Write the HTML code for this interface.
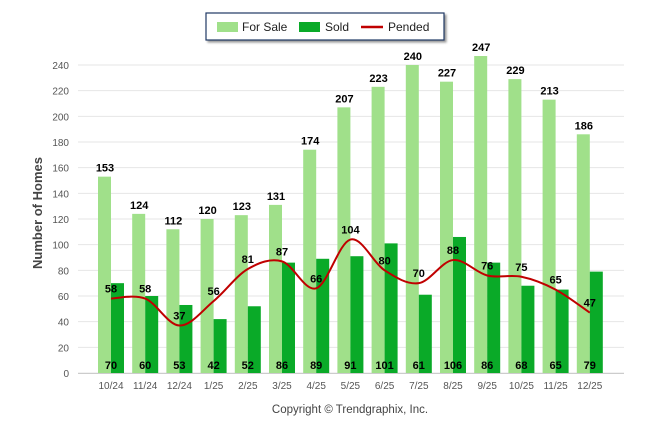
<!DOCTYPE html>
<html><head><meta charset="utf-8"><style>
body{margin:0;background:#fff;font-family:"Liberation Sans",sans-serif}
</style></head><body>
<svg id="c" width="646" height="434" xmlns="http://www.w3.org/2000/svg">
<rect x="206" y="13" width="238" height="27" fill="#fff" stroke="#1f3864" stroke-width="1.2" style="filter:drop-shadow(2px 2px 1px #999)"/>
<rect x="217" y="22" width="21" height="10" fill="#a0e08a"/>
<text x="242" y="31" font-size="12" fill="#222">For Sale</text>
<rect x="299" y="22" width="21" height="10" fill="#0aaa28"/>
<text x="325" y="31" font-size="12" fill="#222">Sold</text>
<line x1="361" y1="27" x2="383" y2="27" stroke="#c00000" stroke-width="2.5"/>
<text x="388" y="31" font-size="12" fill="#222">Pended</text>
<text transform="translate(42,213) rotate(-90)" text-anchor="middle" font-size="13" font-weight="bold" fill="#444">Number of Homes</text>
<text x="350" y="413" text-anchor="middle" font-size="11.5" fill="#444">Copyright © Trendgraphix, Inc.</text>
<g id="g"></g>
</svg>
<script>
const categories=["10/24","11/24","12/24","1/25","2/25","3/25","4/25","5/25","6/25","7/25","8/25","9/25","10/25","11/25","12/25"];
const forSale=[153,124,112,120,123,131,174,207,223,240,227,247,229,213,186];
const sold=[70,60,53,42,52,86,89,91,101,61,106,86,68,65,79];
const pended=[58,58,37,56,81,87,66,104,80,70,88,76,75,65,47];
const yTicks=[0,20,40,60,80,100,120,140,160,180,200,220,240];
const NS="http://www.w3.org/2000/svg",g=document.getElementById('g');
const y=v=>373-v*308/240, x=i=>111+i*34.2;
function mk(t,a,txt){const e=document.createElementNS(NS,t);for(const k in a)e.setAttribute(k,a[k]);if(txt!=null)e.textContent=txt;g.appendChild(e);return e;}
yTicks.forEach(v=>{
 const l=mk('line',{x1:78,x2:624,y1:y(v),y2:y(v),stroke:'#e6e6e6','stroke-width':1});
 
 
 const t=mk('text',{x:69,y:y(v)+4,'text-anchor':'end','font-size':10,fill:'#555'},v);
 
 
});
const ax=mk('line',{x1:78,x2:624,y1:373.5,y2:373.5,stroke:'#ccc'});


categories.forEach((c,i)=>{
 const cx=x(i);
 const b1=mk('rect',{x:cx-13,y:y(forSale[i]),width:13,height:373-y(forSale[i]),fill:'#a0e08a'});
 
 
 const b2=mk('rect',{x:cx,y:y(sold[i]),width:13,height:373-y(sold[i]),fill:'#0aaa28'});
 
 
 const t1=mk('text',{x:cx-6,y:y(forSale[i])-5,'text-anchor':'middle','font-size':11,'font-weight':'bold',fill:'#000'},forSale[i]);
 
 
 const t2=mk('text',{x:cx,y:369,'text-anchor':'middle','font-size':11,'font-weight':'bold',fill:'#000'},sold[i]);
 
 
 const t3=mk('text',{x:cx,y:389,'text-anchor':'middle','font-size':10,fill:'#555'},c);
 
 
});
const pts=pended.map((v,i)=>[x(i),y(v)]);
let d='M'+pts[0][0]+','+pts[0][1];
for(let i=0;i<pts.length-1;i++){
 const p0=pts[i-1]||pts[i],p1=pts[i],p2=pts[i+1],p3=pts[i+2]||p2;
 const c1=[p1[0]+(p2[0]-p0[0])/6,p1[1]+(p2[1]-p0[1])/6],c2=[p2[0]-(p3[0]-p1[0])/6,p2[1]-(p3[1]-p1[1])/6];
 d+=` C${c1[0]},${c1[1]} ${c2[0]},${c2[1]} ${p2[0]},${p2[1]}`;
}
const ln=mk('path',{d:d,fill:'none',stroke:'#c00000','stroke-width':2});


pended.forEach((v,i)=>{
 const t=mk('text',{x:x(i),y:y(v)-6,'text-anchor':'middle','font-size':11,'font-weight':'bold',fill:'#000'},v);
 
 
});
</script>
</body></html>
